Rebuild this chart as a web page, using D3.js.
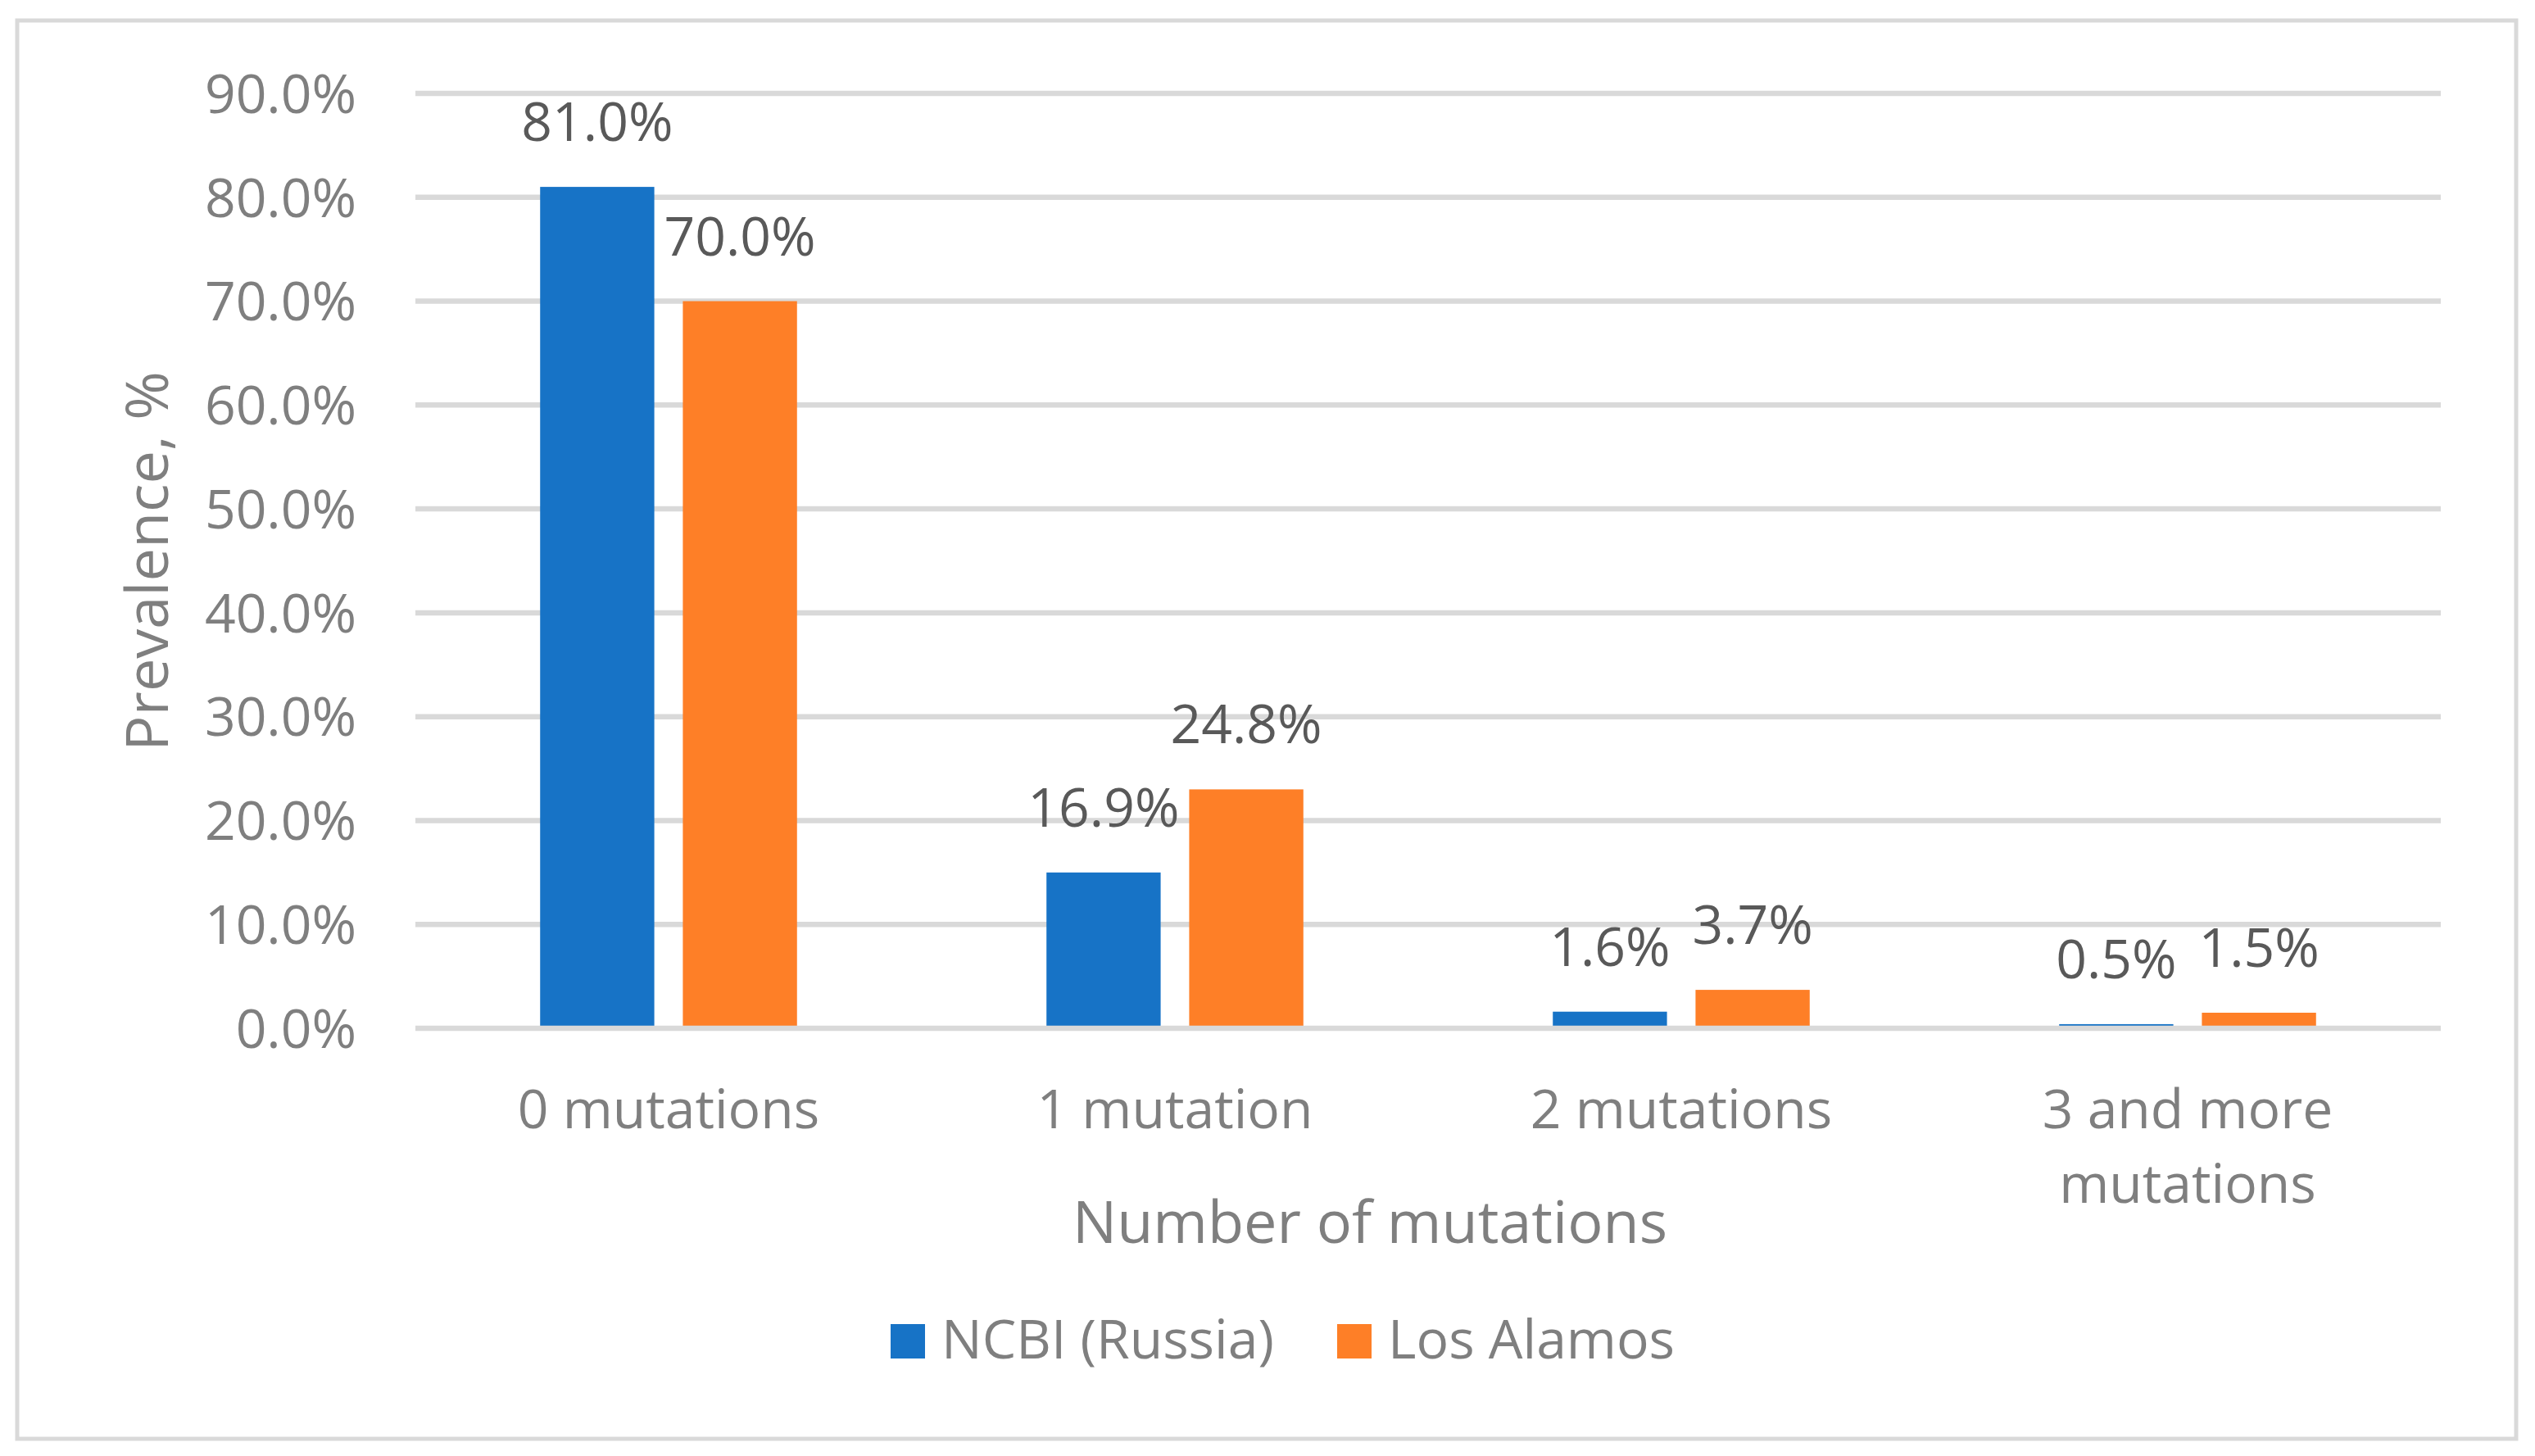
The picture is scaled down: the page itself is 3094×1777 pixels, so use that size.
<!DOCTYPE html>
<html>
<head>
<meta charset="utf-8">
<script src="https://cdn.jsdelivr.net/npm/d3@7"></script>
<style>
  html, body { margin: 0; padding: 0; background: #fff; }
  svg text { font-family: "Open Sans", "Noto Sans", sans-serif; }
</style>
</head>
<body>
<svg id="chart"></svg>
<script>
// data (bar heights in %, labels as printed)
const categories = ["0 mutations", "1 mutation", "2 mutations", "3 and more mutations"];
const seriesNames = ["NCBI (Russia)", "Los Alamos"];
const ncbi = [81.0, 15.0, 1.6, 0.4];
const losAlamos = [70.0, 23.0, 3.7, 1.5];
const ncbiLabels = ["81.0%", "16.9%", "1.6%", "0.5%"];
const losAlamosLabels = ["70.0%", "24.8%", "3.7%", "1.5%"];
const yTicks = [0, 10, 20, 30, 40, 50, 60, 70, 80, 90];
const colors = ["#1773c6", "#fe7f27"];

const width = 3094, height = 1777;
const plot = { left: 507, right: 2979, top: 114, bottom: 1255 };

const svg = d3.select("#chart")
    .attr("width", width)
    .attr("height", height);

// chart border
svg.append("rect")
    .attr("x", 21).attr("y", 25)
    .attr("width", 3050).attr("height", 1731)
    .attr("fill", "#fff")
    .attr("stroke", "#d9d9d9")
    .attr("stroke-width", 5);

const y = d3.scaleLinear().domain([0, 90]).range([plot.bottom, plot.top]);
const x0 = d3.scaleBand().domain(categories).range([plot.left, plot.right]);
const x1 = d3.scaleBand().domain(seriesNames)
    .range([0, x0.bandwidth()])
    .paddingInner(0.2)
    .paddingOuter(0.874);

// gridlines
svg.append("g")
    .selectAll("line")
    .data(yTicks.filter(t => t > 0))
    .join("line")
    .attr("x1", plot.left).attr("x2", plot.right)
    .attr("y1", d => y(d)).attr("y2", d => y(d))
    .attr("stroke", "#d9d9d9")
    .attr("stroke-width", 6.5);

// tick labels
svg.append("g")
    .selectAll("text")
    .data(yTicks)
    .join("text")
    .attr("x", 435)
    .attr("y", d => y(d))
    .attr("dy", "0.36em")
    .attr("text-anchor", "end")
    .attr("font-size", 66)
    .attr("fill", "#7f7f7f")
    .text(d => d3.format(".1f")(d) + "%");

const rows = categories.map((c, i) => ({
    cat: c,
    bars: [
        { s: seriesNames[0], v: ncbi[i], label: ncbiLabels[i], color: colors[0] },
        { s: seriesNames[1], v: losAlamos[i], label: losAlamosLabels[i], color: colors[1] }
    ]
}));

const groups = svg.append("g")
    .selectAll("g")
    .data(rows)
    .join("g")
    .attr("transform", d => `translate(${x0(d.cat)},0)`);

groups.selectAll("rect")
    .data(d => d.bars)
    .join("rect")
    .attr("x", d => x1(d.s))
    .attr("width", x1.bandwidth())
    .attr("y", d => y(d.v))
    .attr("height", d => y(0) - y(d.v))
    .attr("fill", d => d.color);

groups.selectAll("text")
    .data(d => d.bars)
    .join("text")
    .attr("x", d => x1(d.s) + x1.bandwidth() / 2)
    .attr("y", d => y(d.v) - 56)
    .attr("text-anchor", "middle")
    .attr("font-size", 66)
    .attr("fill", "#595959")
    .text(d => d.label);

// zero axis line over bars
svg.append("line")
    .attr("x1", plot.left).attr("x2", plot.right)
    .attr("y1", y(0)).attr("y2", y(0))
    .attr("stroke", "#d9d9d9")
    .attr("stroke-width", 6.5);

// category labels (wrap the long one)
const catLines = { "3 and more mutations": ["3 and more", "mutations"] };
svg.append("g")
    .selectAll("text")
    .data(categories)
    .join("text")
    .attr("text-anchor", "middle")
    .attr("font-size", 66)
    .attr("fill", "#7f7f7f")
    .each(function(d) {
        const lines = catLines[d] || [d];
        d3.select(this).selectAll("tspan")
            .data(lines)
            .join("tspan")
            .attr("x", x0(d) + x0.bandwidth() / 2)
            .attr("y", (l, i) => 1377 + i * 91)
            .text(l => l);
    });

// axis titles
svg.append("text")
    .attr("x", 1672).attr("y", 1517)
    .attr("text-anchor", "middle")
    .attr("font-size", 72)
    .attr("fill", "#7f7f7f")
    .text("Number of mutations");

svg.append("text")
    .attr("transform", "translate(205,685) rotate(-90)")
    .attr("text-anchor", "middle")
    .attr("font-size", 72)
    .attr("fill", "#7f7f7f")
    .text("Prevalence, %");

// legend
const legendX = [1087, 1632];
const legend = svg.append("g")
    .selectAll("g")
    .data(seriesNames)
    .join("g")
    .attr("transform", (d, i) => `translate(${legendX[i]},1616)`);

legend.append("rect")
    .attr("width", 42).attr("height", 42)
    .attr("fill", (d, i) => colors[i]);

legend.append("text")
    .attr("x", 62).attr("y", 42)
    .attr("font-size", 66)
    .attr("fill", "#7f7f7f")
    .text(d => d);
</script>
</body>
</html>
